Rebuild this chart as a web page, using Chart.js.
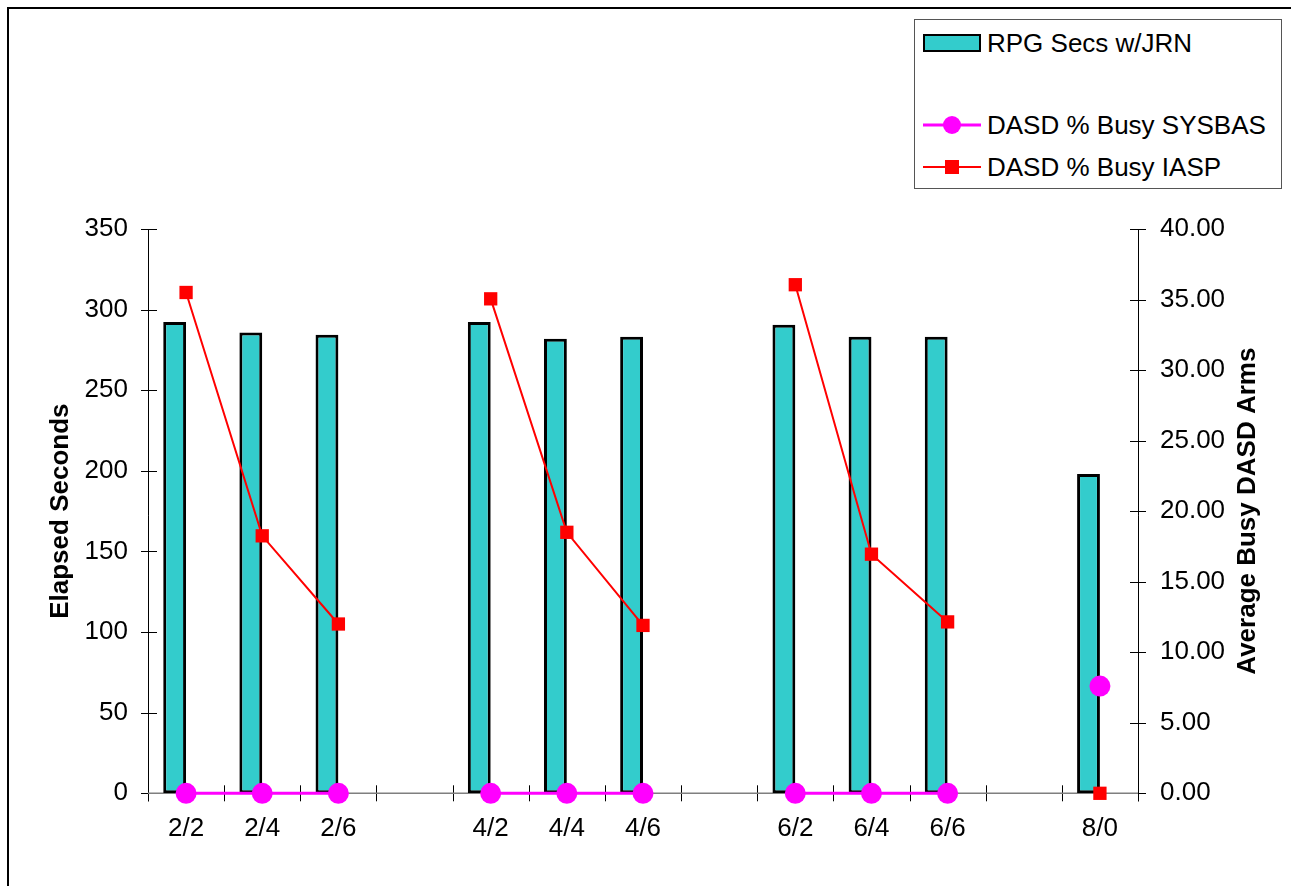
<!DOCTYPE html>
<html>
<head>
<meta charset="utf-8">
<script src="https://cdn.jsdelivr.net/npm/chart.js@4/dist/chart.umd.min.js"></script>
<style>
  html, body { margin: 0; padding: 0; background: #fff; }
  #wrap { position: relative; width: 1291px; height: 886px; overflow: hidden; }
  #frame { position: absolute; left: 7px; top: 7px; width: 1400px; height: 1000px;
           border-left: 2px solid #000; border-top: 2px solid #000; }
  canvas { position: absolute; left: 0; top: 0; }
  #legend { position: absolute; left: 914px; top: 19px; width: 366px; height: 168px;
            border: 1.5px solid #555; background: #fff;
            font-family: "Liberation Sans", Arial, sans-serif; font-size: 26px; color: #000; }
  .row { position: absolute; left: 0; width: 100%; height: 30px; }
  .row .txt { position: absolute; left: 72px; top: 0; line-height: 30px; white-space: nowrap; }
  .row .sw { position: absolute; left: 8px; top: 0; width: 58px; height: 30px; }
</style>
</head>
<body>
<div id="wrap">
  <div id="frame"></div>
  <canvas id="chart" width="1291" height="886"></canvas>
  <div id="legend"></div>
</div>
<script>
// Test configurations (SYSBAS arms / IASP arms)
const categories = ['2/2', '2/4', '2/6', '', '4/2', '4/4', '4/6', '', '6/2', '6/4', '6/6', '', '8/0'];
// Elapsed run time in seconds
const rpgSecs = [292.3, 285.8, 284.4, null, 292.3, 281.9, 283.2, null, 290.6, 283.2, 283.2, null, 198.0];
// Average percent busy of the DASD arms
const busySysbas = [0, 0, 0, null, 0, 0, 0, null, 0, 0, 0, null, 7.6];
const busyIasp = [35.5, 18.25, 12.0, null, 35.05, 18.5, 11.9, null, 36.05, 16.95, 12.15, null, 0];
// Axis tick values
const elapsedTicks = [0, 50, 100, 150, 200, 250, 300, 350];
const busyTicks = [0, 5, 10, 15, 20, 25, 30, 35, 40];

const FONT = '"Liberation Sans", Arial, sans-serif';
Chart.defaults.font.family = FONT;
Chart.defaults.font.size = 26;
Chart.defaults.color = '#000';

// Axis lines and crossing tick marks (under the data), rotated axis titles
const axisDecor = {
  id: 'axisDecor',
  beforeDatasetsDraw(chart) {
    const { ctx, chartArea: a, scales } = chart;
    const x = scales.x, yL = scales.y, yR = scales.y1;
    ctx.save();
    ctx.lineWidth = 1;
    ctx.strokeStyle = '#000';
    ctx.beginPath();
    ctx.moveTo(a.left + 0.5, a.top); ctx.lineTo(a.left + 0.5, a.bottom + 8);
    ctx.moveTo(a.right + 0.5, a.top); ctx.lineTo(a.right + 0.5, a.bottom + 8);
    elapsedTicks.forEach(v => {
      const py = Math.round(yL.getPixelForValue(v)) + 0.5;
      ctx.moveTo(a.left - 7, py); ctx.lineTo(a.left + 9, py);
    });
    busyTicks.forEach(v => {
      const py = Math.round(yR.getPixelForValue(v)) + 0.5;
      ctx.moveTo(a.right - 8, py); ctx.lineTo(a.right + 8, py);
    });
    for (let i = 0; i <= categories.length; i++) {
      const px = Math.round(x.getPixelForValue(i - 0.5)) + 0.5;
      ctx.moveTo(px, a.bottom - 8); ctx.lineTo(px, a.bottom + 8);
    }
    ctx.stroke();
    ctx.strokeStyle = '#7f7f7f';
    ctx.lineWidth = 1.5;
    ctx.beginPath();
    ctx.moveTo(a.left, a.bottom); ctx.lineTo(a.right, a.bottom);
    ctx.stroke();
    ctx.restore();
  },
  afterDraw(chart) {
    const { ctx, chartArea: a } = chart;
    ctx.save();
    ctx.fillStyle = '#000';
    ctx.font = 'bold 26px ' + FONT;
    ctx.textAlign = 'center';
    ctx.textBaseline = 'middle';
    const cy = (a.top + a.bottom) / 2;
    ctx.save();
    ctx.translate(61, cy); ctx.rotate(-Math.PI / 2);
    ctx.fillText('Elapsed Seconds', 0, 0);
    ctx.restore();
    ctx.save();
    ctx.translate(1248, cy); ctx.rotate(-Math.PI / 2);
    ctx.fillText('Average Busy DASD Arms', 0, 0);
    ctx.restore();
    ctx.restore();
  }
};

const datasets = [
  {
    type: 'line', label: 'DASD % Busy SYSBAS', data: busySysbas, yAxisID: 'y1', order: 0,
    borderColor: '#ff00ff', backgroundColor: '#ff00ff', borderWidth: 3,
    pointStyle: 'circle', pointRadius: 10.5, pointBorderWidth: 0,
    pointBackgroundColor: '#ff00ff', spanGaps: false, clip: false, tension: 0
  },
  {
    type: 'line', label: 'DASD % Busy IASP', data: busyIasp, yAxisID: 'y1', order: 1,
    borderColor: '#ff0000', backgroundColor: '#ff0000', borderWidth: 2,
    pointStyle: 'rect', pointRadius: 9.4, pointBorderWidth: 0,
    pointBackgroundColor: '#ff0000', spanGaps: false, clip: false, tension: 0
  },
  {
    type: 'bar', label: 'RPG Secs w/JRN', data: rpgSecs, yAxisID: 'y', order: 2,
    backgroundColor: '#33cccc', borderColor: '#000', borderWidth: 3, borderSkipped: false
  },
  {
    type: 'bar', label: '', data: categories.map(() => null), yAxisID: 'y', order: 3,
    backgroundColor: 'rgba(0,0,0,0)', borderWidth: 0
  }
];

new Chart(document.getElementById('chart'), {
  data: { labels: categories, datasets },
  options: {
    responsive: false,
    animation: false,
    devicePixelRatio: 1,
    layout: { padding: { top: 229, left: 0, right: 0, bottom: 0 } },
    datasets: { bar: { categoryPercentage: 0.6, barPercentage: 1.0 } },
    plugins: { legend: { display: false }, tooltip: { enabled: false } },
    scales: {
      x: {
        type: 'category', offset: true,
        grid: { display: false, offset: true }, border: { display: false },
        ticks: { autoSkip: false, maxRotation: 0, minRotation: 0, padding: 12 },
        afterFit(s) { s.height = 92.7; }
      },
      y: {
        position: 'left', min: 0, max: 350,
        grid: { display: false }, border: { display: false },
        ticks: { padding: 12 },
        afterBuildTicks(s) { s.ticks = elapsedTicks.map(v => ({ value: v })); },
        afterFit(s) { s.width = 148; }
      },
      y1: {
        position: 'right', min: 0, max: 40,
        grid: { display: false }, border: { display: false },
        ticks: { padding: 14, callback: v => Number(v).toFixed(2) },
        afterBuildTicks(s) { s.ticks = busyTicks.map(v => ({ value: v })); },
        afterFit(s) { s.width = 153; }
      }
    }
  },
  plugins: [axisDecor]
});

// Legend box, in dataset order (bars first, then lines)
const legendOrder = [datasets[2], datasets[3], datasets[0], datasets[1]];
const rowTops = [8, 49, 90, 132];
const legend = document.getElementById('legend');
legendOrder.forEach((ds, i) => {
  const row = document.createElement('div');
  row.className = 'row';
  row.style.top = rowTops[i] + 'px';
  const sw = document.createElement('canvas');
  sw.className = 'sw';
  sw.width = 58; sw.height = 30;
  const c = sw.getContext('2d');
  if (ds.type === 'bar' && ds.label) {
    c.fillStyle = ds.backgroundColor;
    c.fillRect(1, 7, 56, 16);
    c.strokeStyle = '#000'; c.lineWidth = 2;
    c.strokeRect(1, 7, 56, 16);
  } else if (ds.type === 'line') {
    c.strokeStyle = ds.borderColor;
    c.lineWidth = ds.borderWidth;
    c.beginPath(); c.moveTo(0, 15); c.lineTo(58, 15); c.stroke();
    c.fillStyle = ds.pointBackgroundColor;
    if (ds.pointStyle === 'circle') {
      c.beginPath(); c.arc(29, 15, 9, 0, Math.PI * 2); c.fill();
    } else {
      c.fillRect(22, 8, 14, 14);
    }
  }
  row.appendChild(sw);
  const t = document.createElement('div');
  t.className = 'txt';
  t.textContent = ds.label;
  row.appendChild(t);
  legend.appendChild(row);
});
</script>
</body>
</html>
